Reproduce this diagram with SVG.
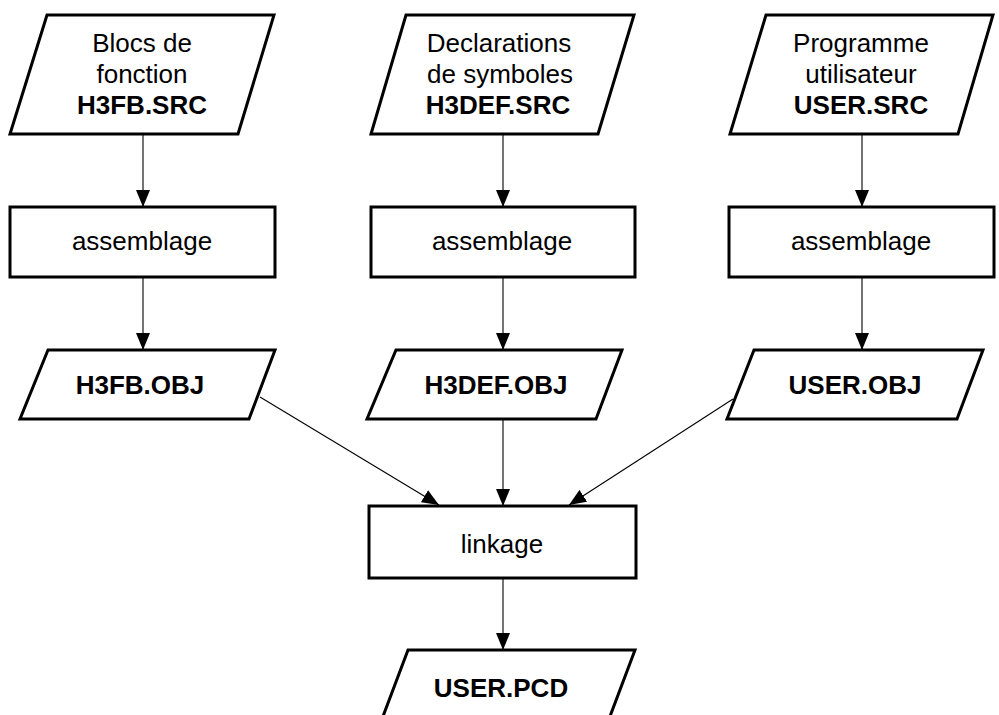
<svg xmlns="http://www.w3.org/2000/svg" width="999" height="715" viewBox="0 0 999 715">
  <defs>
    <marker id="arrow" viewBox="0 0 17 14" refX="17" refY="7" markerWidth="17" markerHeight="14" markerUnits="userSpaceOnUse" orient="auto">
      <path d="M0,0 L17,7 L0,14 Z" fill="#000"/>
    </marker>
    <style>
      .shape { fill: #fff; stroke: #000; stroke-width: 3; stroke-linejoin: miter; }
      .conn { fill: none; stroke: #000; stroke-width: 1.1; marker-end: url(#arrow); }
      text { font-family: "Liberation Sans", Arial, sans-serif; font-size: 26px; fill: #000; text-anchor: middle; }
      .b { font-weight: bold; }
    </style>
  </defs>
  <rect width="999" height="715" fill="#fff"/>

  <!-- connectors -->
  <g id="connectors">
    <line class="conn" x1="143" y1="134" x2="143" y2="207"/>
    <line class="conn" x1="503" y1="134" x2="503" y2="207"/>
    <line class="conn" x1="862" y1="134" x2="862" y2="207"/>
    <line class="conn" x1="143" y1="277" x2="143" y2="350"/>
    <line class="conn" x1="503" y1="277" x2="503" y2="350"/>
    <line class="conn" x1="862" y1="277" x2="862" y2="350"/>
    <line class="conn" x1="260" y1="397" x2="439" y2="505"/>
    <line class="conn" x1="503" y1="419" x2="503" y2="506"/>
    <line class="conn" x1="733" y1="399" x2="569" y2="505"/>
    <line class="conn" x1="503" y1="578" x2="503" y2="650"/>
  </g>

  <!-- source files -->
  <g id="src-h3fb">
    <polygon class="shape" points="47,15 274,15 238,134 10,134"/>
    <text x="142" y="52">Blocs de</text>
    <text x="142" y="83">fonction</text>
    <text class="b" x="142" y="114">H3FB.SRC</text>
  </g>
  <g id="src-h3def">
    <polygon class="shape" points="406,15 634,15 598,134 371,134"/>
    <text x="499" y="52">Declarations</text>
    <text x="500" y="83">de symboles</text>
    <text class="b" x="498" y="114">H3DEF.SRC</text>
  </g>
  <g id="src-user">
    <polygon class="shape" points="766,15 993,15 958,134 730,134"/>
    <text x="861" y="52">Programme</text>
    <text x="861" y="83">utilisateur</text>
    <text class="b" x="861" y="114">USER.SRC</text>
  </g>

  <!-- assembly steps -->
  <g id="asm-h3fb">
    <rect class="shape" x="10" y="207" width="265" height="70"/>
    <text x="142" y="250">assemblage</text>
  </g>
  <g id="asm-h3def">
    <rect class="shape" x="371" y="207" width="264" height="70"/>
    <text x="502" y="250">assemblage</text>
  </g>
  <g id="asm-user">
    <rect class="shape" x="729" y="207" width="265" height="70"/>
    <text x="861" y="250">assemblage</text>
  </g>

  <!-- object files -->
  <g id="obj-h3fb">
    <polygon class="shape" points="48,350 275,350 249,419 20,419"/>
    <text class="b" x="140" y="394">H3FB.OBJ</text>
  </g>
  <g id="obj-h3def">
    <polygon class="shape" points="396,350 622,350 596,419 367,419"/>
    <text class="b" x="496" y="394">H3DEF.OBJ</text>
  </g>
  <g id="obj-user">
    <polygon class="shape" points="754,350 983,350 957,419 727,419"/>
    <text class="b" x="855" y="394">USER.OBJ</text>
  </g>

  <!-- link step -->
  <g id="link">
    <rect class="shape" x="369" y="506" width="267" height="72"/>
    <text x="502" y="553">linkage</text>
  </g>

  <!-- output -->
  <g id="out-pcd">
    <polygon class="shape" points="408,650 635,650 609,719 382,719"/>
    <text class="b" x="501" y="697">USER.PCD</text>
  </g>
</svg>
